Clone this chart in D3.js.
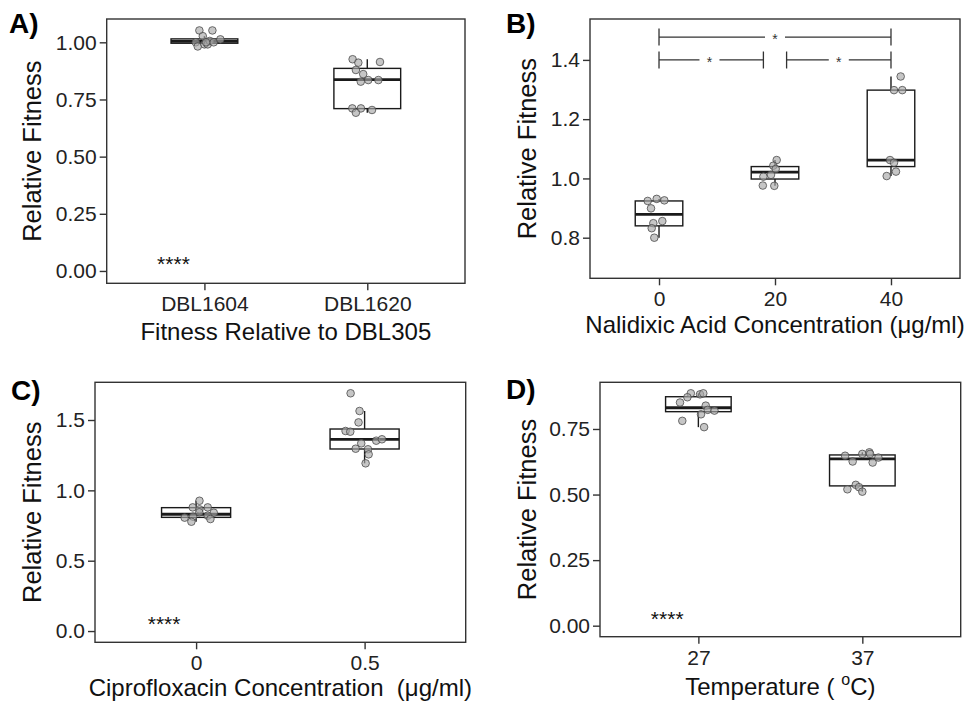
<!DOCTYPE html>
<html>
<head>
<meta charset="utf-8">
<script src="https://cdn.jsdelivr.net/npm/d3@7"></script>
<style>
  body { margin: 0; background: #fff; }
  text { font-family: "Liberation Sans", Arial, Helvetica, sans-serif; white-space: pre; }
</style>
</head>
<body>
<div id="chart"></div>
<script>
// A) fitness of the two strains relative to DBL305
const strainNames = ["DBL1604", "DBL1620"];
// box stats: [whisker low, q1, median, q3, whisker high]
const strainBox = [[0.982, 0.996, 1.004, 1.015, 1.027], [0.692, 0.710, 0.837, 0.886, 0.926]];
const strainFitness = [
  [1.052, 1.052, 1.027, 1.000, 0.982, 0.991, 0.991, 1.006, 1.000, 1.013, 1.000],
  [0.926, 0.911, 0.914, 0.879, 0.861, 0.828, 0.835, 0.835, 0.711, 0.711, 0.692, 0.704]
];
const strainJitter = [
  [-0.031, 0.049, -0.010, -0.053, -0.041, 0.000, 0.020, 0.033, 0.057, 0.098, 0.010],
  [-0.090, -0.055, 0.078, -0.070, -0.025, -0.040, 0.006, 0.068, -0.092, -0.039, -0.070, 0.029]
];
const strainTicks = [0, 0.25, 0.5, 0.75, 1];

// B) nalidixic acid
const nalDoses = [0, 20, 40];
const nalBox = [[0.800, 0.840, 0.879, 0.924, 0.931], [0.975, 0.998, 1.021, 1.040, 1.062], [1.008, 1.040, 1.062, 1.298, 1.344]];
const nalFitness = [
  [0.924, 0.931, 0.926, 0.899, 0.849, 0.832, 0.856, 0.800],
  [1.062, 1.043, 1.032, 1.006, 1.012, 0.976, 0.975],
  [1.344, 1.298, 1.298, 1.062, 1.053, 1.023, 1.008]
];
const nalJitter = [
  [-1.95, -0.40, 0.92, -1.38, -0.98, -1.26, 0.57, -0.81],
  [0.29, -0.29, 0.12, -2.00, -0.69, -2.10, -0.12],
  [1.67, 0.52, 1.95, -0.17, 0.52, 0.86, -0.74]
];
const nalTicks = [0.8, 1.0, 1.2, 1.4];
// significance brackets: [from dose, to dose, height, star position]
const nalBrackets = [[0, 40, 1.477, 20], [0, 18, 1.400, 8.7], [22, 40, 1.400, 31]];

// C) ciprofloxacin
const ciproDoses = ["0", "0.5"];
const ciproBox = [[0.777, 0.808, 0.830, 0.877, 0.926], [1.192, 1.294, 1.363, 1.436, 1.564]];
const ciproFitness = [
  [0.926, 0.879, 0.879, 0.865, 0.844, 0.841, 0.806, 0.813, 0.820, 0.796, 0.777],
  [1.690, 1.564, 1.483, 1.422, 1.417, 1.334, 1.296, 1.292, 1.256, 1.192, 1.353, 1.363]
];
const ciproJitter = [
  [0.020, -0.020, 0.069, 0.020, 0.019, 0.105, -0.068, -0.018, 0.069, 0.085, -0.028],
  [-0.083, -0.030, -0.036, -0.113, -0.085, -0.020, -0.053, 0.020, 0.024, 0.006, 0.069, 0.103]
];
const ciproTicks = [0, 0.5, 1, 1.5];

// D) temperature
const tempLevels = ["27", "37"];
const tempBox = [[0.757, 0.816, 0.831, 0.873, 0.886], [0.511, 0.533, 0.636, 0.651, 0.661]];
const tempFitness = [
  [0.886, 0.882, 0.886, 0.871, 0.851, 0.839, 0.823, 0.820, 0.806, 0.781, 0.757],
  [0.648, 0.626, 0.655, 0.661, 0.655, 0.622, 0.641, 0.520, 0.537, 0.528, 0.511]
];
const tempJitter = [
  [-0.046, 0.010, 0.030, -0.067, -0.112, 0.045, 0.057, 0.098, 0.016, -0.098, 0.035],
  [-0.105, -0.059, 0.000, 0.043, 0.047, 0.063, 0.098, -0.091, -0.040, -0.020, 0.000]
];
const tempTicks = [0, 0.25, 0.5, 0.75];

const W = 968, H = 703;
const ink = "#333";

const svg = d3.select("#chart")
  .append("svg")
    .attr("width", W)
    .attr("height", H);

function drawPanel(p) {
  const g = svg.append("g");

  const y = d3.scaleLinear().domain(p.yDomain).range([p.bottom, p.top]);
  let x, xAt, half;
  if (p.continuous) {
    x = d3.scaleLinear().domain(p.xDomain).range([p.left, p.right]);
    xAt = (i, off) => x(p.cats[i] + off);
    half = (x(p.boxWidth) - x(0)) / 2;
  } else {
    x = d3.scalePoint().domain(p.cats).range([p.left, p.right]).padding(0.6);
    xAt = (i, off) => x(p.cats[i]) + off * x.step();
    half = p.boxWidth * x.step() / 2;
  }

  // axes
  const yAxis = g.append("g")
    .attr("transform", "translate(" + p.left + ",0)")
    .call(d3.axisLeft(y).tickValues(p.yTicks).tickFormat(d3.format(p.yFormat)).tickSize(7).tickPadding(3));
  const xAxisFn = d3.axisBottom(x).tickSize(7).tickPadding(6);
  if (p.continuous) xAxisFn.tickValues(p.cats);
  const xAxis = g.append("g")
    .attr("transform", "translate(0," + p.bottom + ")")
    .call(xAxisFn);
  [xAxis, yAxis].forEach(a => {
    a.select(".domain").remove();
    a.selectAll("line").attr("stroke", ink).attr("stroke-width", 1.4);
    a.selectAll("text")
      .attr("fill", "#222")
      .style("font-size", "21px")
      .style("font-family", "'Liberation Sans', Arial, sans-serif");
  });

  // panel border
  g.append("rect")
    .attr("x", p.left).attr("y", p.top)
    .attr("width", p.right - p.left).attr("height", p.bottom - p.top)
    .attr("fill", "none").attr("stroke", ink).attr("stroke-width", 1.4);

  // boxes
  const boxes = g.selectAll(".box")
    .data(p.box)
    .enter().append("g")
      .attr("class", "box");
  boxes.append("line")
    .attr("x1", (d, i) => xAt(i, 0)).attr("x2", (d, i) => xAt(i, 0))
    .attr("y1", d => y(d[0])).attr("y2", d => y(d[1]))
    .attr("stroke", "#1a1a1a").attr("stroke-width", 1.4);
  boxes.append("line")
    .attr("x1", (d, i) => xAt(i, 0)).attr("x2", (d, i) => xAt(i, 0))
    .attr("y1", d => y(d[3])).attr("y2", d => y(d[4]))
    .attr("stroke", "#1a1a1a").attr("stroke-width", 1.4);
  boxes.append("rect")
    .attr("x", (d, i) => xAt(i, 0) - half)
    .attr("width", 2 * half)
    .attr("y", d => y(d[3]))
    .attr("height", d => y(d[1]) - y(d[3]))
    .attr("fill", "#fff").attr("stroke", "#1a1a1a").attr("stroke-width", 1.4);
  boxes.append("line")
    .attr("x1", (d, i) => xAt(i, 0) - half).attr("x2", (d, i) => xAt(i, 0) + half)
    .attr("y1", d => y(d[2])).attr("y2", d => y(d[2]))
    .attr("stroke", "#1a1a1a").attr("stroke-width", 2.8);

  // jittered points
  const pts = [];
  p.values.forEach((vals, i) => vals.forEach((v, j) => pts.push({ i: i, v: v, off: p.jitter[i][j] })));
  g.selectAll(".pt")
    .data(pts)
    .enter().append("circle")
      .attr("class", "pt")
      .attr("cx", d => xAt(d.i, d.off))
      .attr("cy", d => y(d.v))
      .attr("r", 3.8)
      .attr("fill", "#a8a8a8").attr("fill-opacity", 0.65)
      .attr("stroke", "#444").attr("stroke-opacity", 0.85).attr("stroke-width", 0.9);

  // significance
  if (p.stars) {
    g.append("text")
      .attr("x", xAt(0, p.stars.offset))
      .attr("y", y(p.stars.value))
      .attr("text-anchor", "middle")
      .style("font-size", "21px")
      .attr("fill", "#111")
      .text(p.stars.label);
  }
  if (p.brackets) {
    const tip = 8.5, gap = 10;
    p.brackets.forEach(b => {
      const x1 = x(b[0]), x2 = x(b[1]), yy = y(b[2]), xs = x(b[3]);
      const path = d3.path();
      path.moveTo(x1, yy - tip); path.lineTo(x1, yy + tip);
      path.moveTo(x2, yy - tip); path.lineTo(x2, yy + tip);
      path.moveTo(x1, yy); path.lineTo(xs - gap, yy);
      path.moveTo(xs + gap, yy); path.lineTo(x2, yy);
      g.append("path").attr("d", path.toString())
        .attr("fill", "none").attr("stroke", ink).attr("stroke-width", 1.3);
      g.append("text")
        .attr("x", xs).attr("y", yy + 7)
        .attr("text-anchor", "middle")
        .style("font-size", "14px")
        .attr("fill", "#333")
        .text("*");
    });
  }

  // titles
  g.append("text")
    .attr("transform", "translate(" + p.yTitleX + "," + ((p.top + p.bottom) / 2) + ")rotate(-90)")
    .attr("text-anchor", "middle")
    .style("font-size", "25.5px")
    .attr("fill", "#111")
    .text("Relative Fitness");

  const xt = g.append("text")
    .attr("x", (p.left + p.right) / 2)
    .attr("y", p.xTitleY)
    .attr("text-anchor", "middle")
    .style("font-size", "24px")
    .attr("fill", "#111");
  p.xTitle(xt);

  g.append("text")
    .attr("x", p.tagX).attr("y", p.tagY)
    .style("font-size", "28px")
    .style("font-weight", "bold")
    .attr("fill", "#000")
    .text(p.tag);
}

drawPanel({
  tag: "A)", tagX: 9, tagY: 33,
  left: 106.7, right: 465, top: 19, bottom: 283.3,
  cats: strainNames, box: strainBox, values: strainFitness, jitter: strainJitter, boxWidth: 0.41,
  yDomain: [-0.054, 1.102], yTicks: strainTicks, yFormat: ".2f",
  stars: { label: "****", offset: -0.19, value: 0 },
  yTitleX: 41, xTitleY: 340,
  xTitle: t => t.text("Fitness Relative to DBL305")
});

drawPanel({
  tag: "B)", tagX: 506, tagY: 33,
  left: 590, right: 960, top: 19, bottom: 278.3,
  continuous: true, xDomain: [-11.9, 51.9],
  cats: nalDoses, box: nalBox, values: nalFitness, jitter: nalJitter, boxWidth: 8.2,
  yDomain: [0.663, 1.538], yTicks: nalTicks, yFormat: ".1f",
  brackets: nalBrackets,
  yTitleX: 536, xTitleY: 333,
  xTitle: t => t.text("Nalidixic Acid Concentration (\u03bcg/ml)")
});

drawPanel({
  tag: "C)", tagX: 11, tagY: 400,
  left: 95, right: 465.7, top: 382.3, bottom: 642.3,
  cats: ciproDoses, box: ciproBox, values: ciproFitness, jitter: ciproJitter, boxWidth: 0.41,
  yDomain: [-0.080, 1.768], yTicks: ciproTicks, yFormat: ".1f",
  stars: { label: "****", offset: -0.19, value: 0 },
  yTitleX: 41, xTitleY: 696,
  xTitle: t => t.text("Ciprofloxacin Concentration  (\u03bcg/ml)")
});

drawPanel({
  tag: "D)", tagX: 506, tagY: 399,
  left: 600, right: 960.7, top: 382.3, bottom: 636.7,
  cats: tempLevels, box: tempBox, values: tempFitness, jitter: tempJitter, boxWidth: 0.40,
  yDomain: [-0.042, 0.928], yTicks: tempTicks, yFormat: ".2f",
  stars: { label: "****", offset: -0.19, value: 0 },
  yTitleX: 536, xTitleY: 695,
  xTitle: t => {
    t.append("tspan").text("Temperature ( ");
    t.append("tspan").attr("dy", -10).style("font-size", "16px").text("o");
    t.append("tspan").attr("dy", 10).text("C)");
  }
});
</script>
</body>
</html>
